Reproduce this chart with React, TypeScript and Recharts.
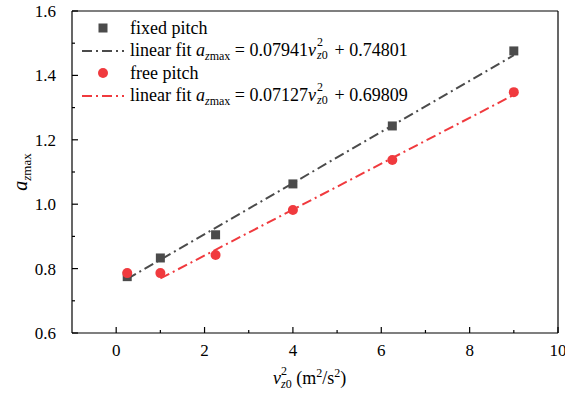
import React from 'react';
import { ComposedChart, XAxis, YAxis, Scatter, Line, ReferenceLine } from 'recharts';

// squared initial vertical velocity v_z0^2 (m^2/s^2)
const speedSq = [0.25, 1, 2.25, 4, 6.25, 9];
// peak vertical acceleration a_zmax
const fixedPitch = [0.775, 0.833, 0.905, 1.063, 1.243, 1.476];
const freePitch = [0.786, 0.786, 0.842, 0.982, 1.137, 1.348];

// linear fit coefficients and fitted range
const fixedSlope = 0.07941;
const fixedIntercept = 0.74801;
const fixedRange = [0.25, 9];
const freeSlope = 0.07127;
const freeIntercept = 0.69809;
const freeRange = [1, 9];

const xTicks = [0, 1, 2, 3, 4, 5, 6, 7, 8, 9, 10];
const yTicks = [0.6, 0.7, 0.8, 0.9, 1.0, 1.1, 1.2, 1.3, 1.4, 1.5, 1.6];

const FONT =
  "'Liberation Serif', Tinos, 'Times New Roman', Times, 'Noto Serif', 'Nimbus Roman', FreeSerif, 'DejaVu Serif', serif";
const GRAY = '#4b4b4b';
const RED = '#f03a3e';
const DASH = '10 4 2 4';

const fixedData = speedSq.map((x, i) => ({ x, y: fixedPitch[i] }));
const freeData = speedSq.map((x, i) => ({ x, y: freePitch[i] }));
const fixedFit = fixedRange.map((x) => ({ x, y: fixedSlope * x + fixedIntercept }));
const freeFit = freeRange.map((x) => ({ x, y: freeSlope * x + freeIntercept }));

const SquareDot = (p: any) => (
  <rect x={p.cx - 4.5} y={p.cy - 4.5} width={9} height={9} fill={GRAY} />
);
const CircleDot = (p: any) => <circle cx={p.cx} cy={p.cy} r={5} fill={RED} />;

const XTick = (p: any) => {
  const v = p.payload.value;
  const major = Math.round(v) % 2 === 0;
  return (
    <g>
      <line x1={p.x} x2={p.x} y1={p.y} y2={p.y - (major ? 6 : 3)} stroke="#000" strokeWidth={1.2} />
      {major && (
        <text x={p.x} y={p.y + 23} textAnchor="middle" fontFamily={FONT} fontSize={17} fill="#000">
          {v}
        </text>
      )}
    </g>
  );
};

const YTick = (p: any) => {
  const v = p.payload.value;
  const major = Math.round(v * 10) % 2 === 0;
  return (
    <g>
      <line x1={p.x} x2={p.x + (major ? 6 : 3)} y1={p.y} y2={p.y} stroke="#000" strokeWidth={1.2} />
      {major && (
        <text x={p.x - 16} y={p.y + 6} textAnchor="end" fontFamily={FONT} fontSize={17} fill="#000">
          {v.toFixed(1)}
        </text>
      )}
    </g>
  );
};

const XTitle = (props: any) => {
  const vb = props.viewBox || { x: 72, y: 333, width: 486 };
  const cx = vb.x + vb.width / 2;
  const y = vb.y + 51;
  return (
    <text x={cx - 42} y={y} fontFamily={FONT} fontSize={18} fill="#000">
      <tspan fontStyle="italic">v</tspan>
      <tspan fontSize={12} dy={-9}>2</tspan>
      <tspan fontSize={12} dx={-6} dy={13} fontStyle="italic">z</tspan>
      <tspan fontSize={12} dy={0}>0</tspan>
      <tspan dy={-4}> (m</tspan>
      <tspan fontSize={12} dy={-7}>2</tspan>
      <tspan dy={7}>/s</tspan>
      <tspan fontSize={12} dy={-7}>2</tspan>
      <tspan dy={7}>)</tspan>
    </text>
  );
};

const YTitle = () => (
  <text
    x={0}
    y={0}
    transform="translate(27,172) rotate(-90)"
    textAnchor="middle"
    fontFamily={FONT}
    fontSize={20}
    fill="#000"
  >
    <tspan fontStyle="italic">a</tspan>
    <tspan fontSize={13} dy={4} fontStyle="italic">z</tspan>
    <tspan fontSize={13}>max</tspan>
  </text>
);

// superscript "2" stacked over subscript "z0"
const Stack = () => (
  <span style={{ position: 'relative', display: 'inline-block', width: 14, height: 1 }}>
    <span style={{ position: 'absolute', left: 1, top: -19, fontSize: 12, lineHeight: '12px' }}>2</span>
    <span style={{ position: 'absolute', left: 1, top: -6, fontSize: 12, lineHeight: '12px', whiteSpace: 'nowrap' }}>
      <i>z</i>0
    </span>
  </span>
);

const Equation = ({ slope, intercept }: { slope: number; intercept: number }) => (
  <span>
    linear fit <i>a</i>
    <span style={{ position: 'relative', top: 4, fontSize: 12 }}>
      <i>z</i>max
    </span>{' '}
    = {slope.toFixed(5)}
    <i>v</i>
    <Stack /> + {intercept.toFixed(5)}
  </span>
);

const legendRows = [
  { kind: 'square', text: <span>fixed pitch</span> },
  { kind: 'grayLine', text: <Equation slope={fixedSlope} intercept={fixedIntercept} /> },
  { kind: 'circle', text: <span>free pitch</span> },
  { kind: 'redLine', text: <Equation slope={freeSlope} intercept={freeIntercept} /> },
];

const LegendIcon = ({ kind }: { kind: string }) => (
  <svg width={44} height={16} style={{ display: 'block' }}>
    {kind === 'square' && <rect x={17.5} y={3.5} width={9} height={9} fill={GRAY} />}
    {kind === 'circle' && <circle cx={22} cy={8} r={5} fill={RED} />}
    {kind === 'grayLine' && (
      <line x1={1} x2={43} y1={8} y2={8} stroke={GRAY} strokeWidth={2} strokeDasharray={DASH} />
    )}
    {kind === 'redLine' && (
      <line x1={1} x2={43} y1={8} y2={8} stroke={RED} strokeWidth={2} strokeDasharray={DASH} />
    )}
  </svg>
);

const LegendBox = () => (
  <div
    style={{
      position: 'absolute',
      left: 81,
      top: 17,
      width: 400,
      height: 110,
      fontFamily: FONT,
      fontSize: 18,
      color: '#000',
      pointerEvents: 'none',
    }}
  >
    {legendRows.map((r, i) => (
      <div
        key={i}
        style={{ position: 'absolute', left: 0, top: i * 22.7, height: 22, display: 'flex', alignItems: 'center' }}
      >
        <LegendIcon kind={r.kind} />
        <div style={{ marginLeft: 5, whiteSpace: 'nowrap', lineHeight: '22px' }}>{r.text}</div>
      </div>
    ))}
  </div>
);

export default function App() {
  return (
    <div style={{ position: 'absolute', left: 0, top: 0, width: 565, height: 396, background: '#fff' }}>
      <ComposedChart width={565} height={396} margin={{ top: 11, right: 7, left: 0, bottom: 0 }}>
        <XAxis
          dataKey="x"
          type="number"
          domain={[-1, 10]}
          ticks={xTicks}
          interval={0}
          allowDataOverflow
          height={63}
          tickLine={false}
          tickSize={0}
          tickMargin={0}
          axisLine={{ stroke: '#000', strokeWidth: 1.2 }}
          tick={<XTick />}
          label={{ content: (p: any) => <XTitle {...p} /> }}
        />
        <YAxis
          type="number"
          domain={[0.6, 1.6]}
          ticks={yTicks}
          interval={0}
          allowDataOverflow
          width={72}
          tickLine={false}
          tickSize={0}
          tickMargin={0}
          axisLine={{ stroke: '#000', strokeWidth: 1.2 }}
          tick={<YTick />}
          label={{ content: () => <YTitle /> }}
        />
        <ReferenceLine y={1.6} stroke="#000" strokeWidth={1.2} />
        <ReferenceLine x={10} stroke="#000" strokeWidth={1.2} />
        <Line
          data={fixedFit}
          dataKey="y"
          type="linear"
          stroke={GRAY}
          strokeWidth={2}
          strokeDasharray={DASH}
          dot={false}
          activeDot={false}
          isAnimationActive={false}
        />
        <Scatter data={fixedData} dataKey="y" shape={<SquareDot />} isAnimationActive={false} />
        <Line
          data={freeFit}
          dataKey="y"
          type="linear"
          stroke={RED}
          strokeWidth={2}
          strokeDasharray={DASH}
          dot={false}
          activeDot={false}
          isAnimationActive={false}
        />
        <Scatter data={freeData} dataKey="y" shape={<CircleDot />} isAnimationActive={false} />
      </ComposedChart>
      <LegendBox />
    </div>
  );
}
